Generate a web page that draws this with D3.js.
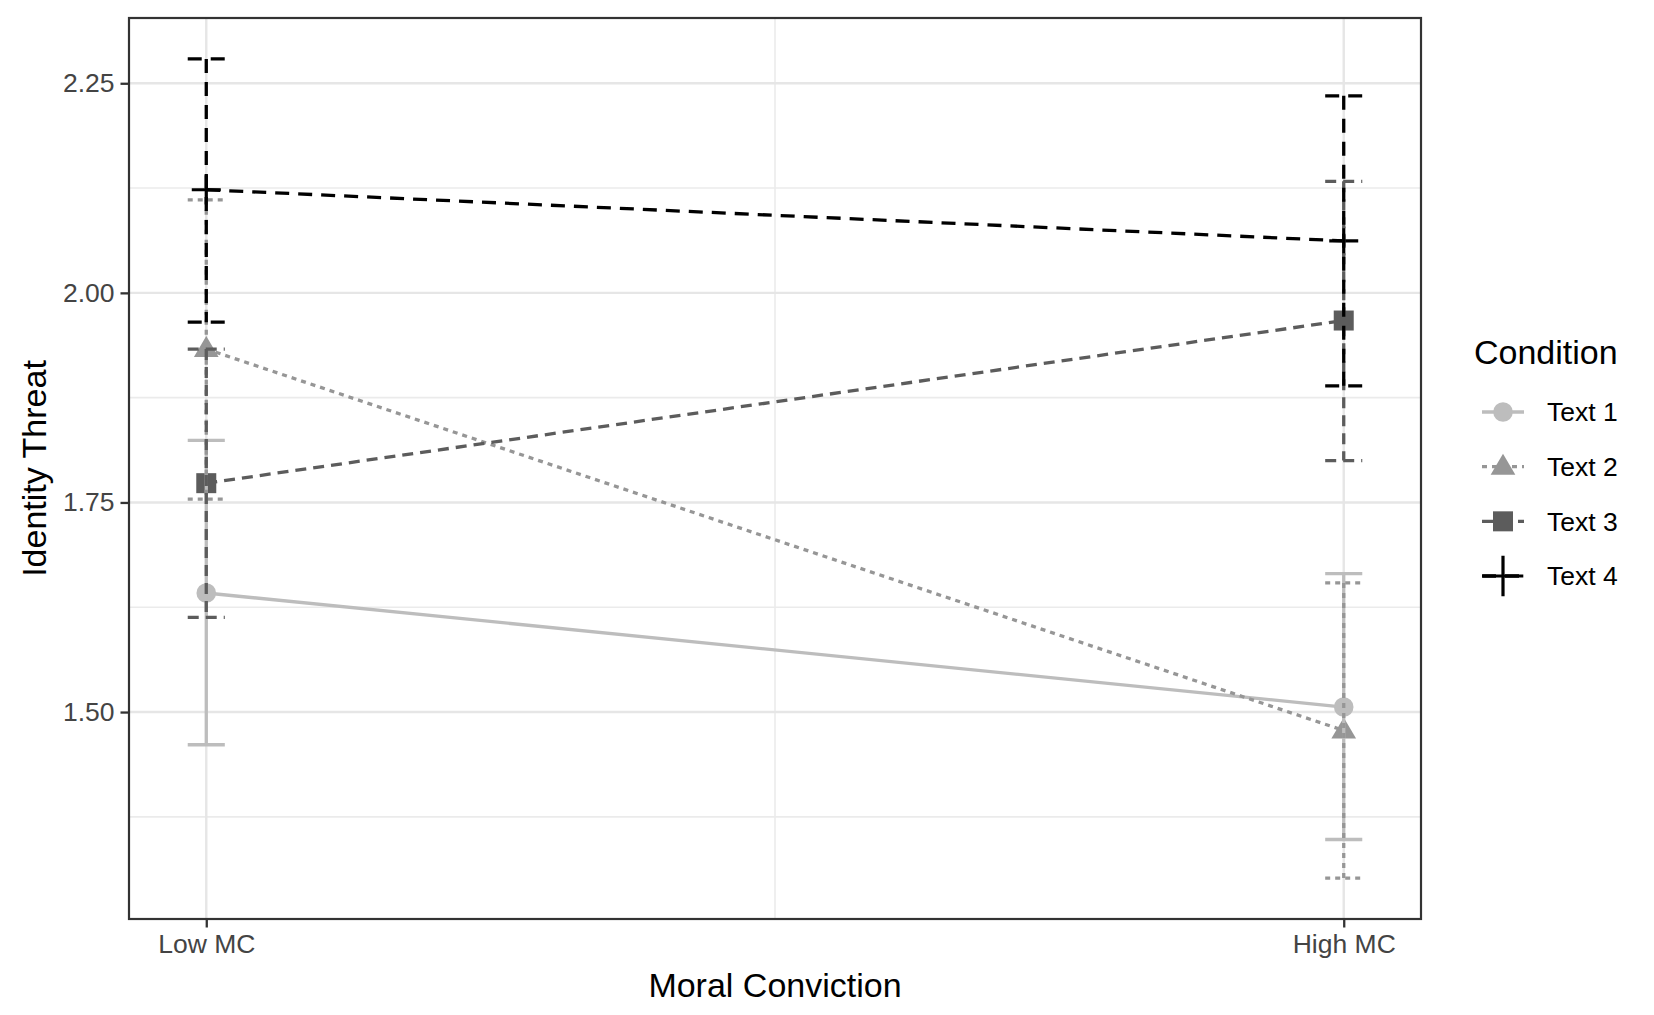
<!DOCTYPE html>
<html>
<head>
<meta charset="utf-8">
<script src="https://cdn.jsdelivr.net/npm/d3@7"></script>
<style>
  html, body { margin: 0; padding: 0; background: #ffffff; }
  svg { display: block; font-family: "Liberation Sans", Arial, Helvetica, sans-serif; }
</style>
</head>
<body>
<svg id="chart" width="1654" height="1015"></svg>
<script>
// ---------------- data ----------------
const categories = ["Low MC", "High MC"];
const conditions = ["Text 1", "Text 2", "Text 3", "Text 4"];
const yTicks = [1.50, 1.75, 2.00, 2.25];
const yMinorTicks = [1.375, 1.625, 1.875, 2.125];

// means per condition (Low MC, High MC)
const text1Mean = [1.642, 1.506];
const text2Mean = [1.933, 1.478];
const text3Mean = [1.773, 1.967];
const text4Mean = [2.123, 2.062];
// lower / upper error bar limits (Low MC, High MC)
const text1Lower = [1.461, 1.348];
const text1Upper = [1.824, 1.665];
const text2Lower = [1.754, 1.302];
const text2Upper = [2.111, 1.654];
const text3Lower = [1.613, 1.800];
const text3Upper = [1.933, 2.133];
const text4Lower = [1.965, 1.889];
const text4Upper = [2.279, 2.235];

const xTitle = "Moral Conviction";
const yTitle = "Identity Threat";
const legendTitle = "Condition";

// ---------------- styles ----------------
const colors = ["#bdbdbd", "#969696", "#5c5c5c", "#000000"];
const dashes = [null, "5,5", "11,7", "14,9"];
const shapes = ["circle", "triangle", "square", "plus"];

const series = conditions.map((c, i) => ({
  name: c,
  mean: [text1Mean, text2Mean, text3Mean, text4Mean][i],
  lower: [text1Lower, text2Lower, text3Lower, text4Lower][i],
  upper: [text1Upper, text2Upper, text3Upper, text4Upper][i],
  color: colors[i], dash: dashes[i], shape: shapes[i]
}));

// ---------------- layout ----------------
const panel = { left: 129, right: 1421, top: 18, bottom: 919 };
const capHalf = 0.0163;    // error bar half-width in x units
const lw = 3.3;
const svg = d3.select("#chart");

// x: continuous positions 0..n-1 with ggplot-like 5% expansion
const xLo = -capHalf, xHi = categories.length - 1 + capHalf;
const xPad = (xHi - xLo) * 0.05;
const x = d3.scaleLinear().domain([xLo - xPad, xHi + xPad]).range([panel.left, panel.right]);

const allLo = d3.min(series, s => d3.min(s.lower));
const allHi = d3.max(series, s => d3.max(s.upper));
const yPad = (allHi - allLo) * 0.05;
const y = d3.scaleLinear().domain([allLo - yPad, allHi + yPad]).range([panel.bottom, panel.top]);

// panel background
svg.append("rect").attr("x", panel.left).attr("y", panel.top)
  .attr("width", panel.right - panel.left).attr("height", panel.bottom - panel.top)
  .attr("fill", "#ffffff");

// grid
const grid = svg.append("g");
grid.selectAll(".ymin").data(yMinorTicks).join("line")
  .attr("x1", panel.left).attr("x2", panel.right)
  .attr("y1", d => y(d)).attr("y2", d => y(d))
  .attr("stroke", "#ebebeb").attr("stroke-width", 1.6);
grid.selectAll(".xmin").data([0.5]).join("line")
  .attr("y1", panel.top).attr("y2", panel.bottom)
  .attr("x1", d => x(d)).attr("x2", d => x(d))
  .attr("stroke", "#ebebeb").attr("stroke-width", 1.6);
grid.selectAll(".ymaj").data(yTicks).join("line")
  .attr("x1", panel.left).attr("x2", panel.right)
  .attr("y1", d => y(d)).attr("y2", d => y(d))
  .attr("stroke", "#e6e6e6").attr("stroke-width", 2.4);
grid.selectAll(".xmaj").data(categories.map((c, i) => i)).join("line")
  .attr("y1", panel.top).attr("y2", panel.bottom)
  .attr("x1", d => x(d)).attr("x2", d => x(d))
  .attr("stroke", "#e6e6e6").attr("stroke-width", 2.4);

// symbol drawing helper
function drawShape(g, shape, cx, cy, color, scale) {
  const k = scale || 1;
  if (shape === "circle") {
    g.append("circle").attr("cx", cx).attr("cy", cy).attr("r", 9.8 * k).attr("fill", color);
  } else if (shape === "triangle") {
    const s = 13 * k;
    g.append("path").attr("d",
      `M${cx},${cy - s * 1.0} L${cx + s * 0.95},${cy + s * 0.62} L${cx - s * 0.95},${cy + s * 0.62} Z`)
      .attr("fill", color);
  } else if (shape === "square") {
    const s = 10 * k;
    g.append("rect").attr("x", cx - s).attr("y", cy - s).attr("width", 2 * s).attr("height", 2 * s)
      .attr("fill", color);
  } else if (shape === "plus") {
    const s = 14.5 * k;
    g.append("path").attr("d", `M${cx - s},${cy} H${cx + s} M${cx},${cy - s} V${cy + s}`)
      .attr("stroke", color).attr("stroke-width", 3.2).attr("fill", "none");
  }
}

// lines
const line = d3.line().x((d, i) => x(i)).y(d => y(d));
const linesG = svg.append("g");
series.forEach(s => {
  linesG.append("path").attr("d", line(s.mean))
    .attr("fill", "none").attr("stroke", s.color).attr("stroke-width", lw)
    .attr("stroke-dasharray", s.dash);
});

// points
const ptsG = svg.append("g");
series.forEach(s => {
  s.mean.forEach((m, i) => drawShape(ptsG, s.shape, x(i), y(m), s.color));
});

// error bars (top cap, vertical, bottom cap as separate dashed segments)
const errG = svg.append("g");
series.forEach(s => {
  s.mean.forEach((m, i) => {
    const segs = [
      [[i - capHalf, s.upper[i]], [i + capHalf, s.upper[i]]],
      [[i, s.upper[i]], [i, s.lower[i]]],
      [[i - capHalf, s.lower[i]], [i + capHalf, s.lower[i]]]
    ];
    segs.forEach(sg => {
      errG.append("line")
        .attr("x1", x(sg[0][0])).attr("y1", y(sg[0][1]))
        .attr("x2", x(sg[1][0])).attr("y2", y(sg[1][1]))
        .attr("stroke", s.color).attr("stroke-width", lw)
        .attr("stroke-dasharray", s.dash);
    });
  });
});

// panel border
svg.append("rect").attr("x", panel.left).attr("y", panel.top)
  .attr("width", panel.right - panel.left).attr("height", panel.bottom - panel.top)
  .attr("fill", "none").attr("stroke", "#333333").attr("stroke-width", 2.2);

// axes
const yAxis = d3.axisLeft(y).tickValues(yTicks).tickFormat(d3.format(".2f")).tickSizeOuter(0).tickSize(8.5).tickPadding(6);
const yG = svg.append("g").attr("transform", `translate(${panel.left},0)`).call(yAxis);
yG.select(".domain").remove();
yG.selectAll(".tick line").attr("stroke", "#333333").attr("stroke-width", 2.3);
yG.selectAll(".tick text").attr("fill", "#444444").attr("font-size", 26.5)
  .attr("font-family", "'Liberation Sans', Arial, sans-serif");

const xAxis = d3.axisBottom(x).tickValues(categories.map((c, i) => i))
  .tickFormat(i => categories[i]).tickSizeOuter(0).tickSize(8.5).tickPadding(7);
const xG = svg.append("g").attr("transform", `translate(0,${panel.bottom})`).call(xAxis);
xG.select(".domain").remove();
xG.selectAll(".tick line").attr("stroke", "#333333").attr("stroke-width", 2.3);
xG.selectAll(".tick text").attr("fill", "#444444").attr("font-size", 26.5)
  .attr("font-family", "'Liberation Sans', Arial, sans-serif");

// axis titles
svg.append("text").attr("x", (panel.left + panel.right) / 2).attr("y", 997)
  .attr("text-anchor", "middle").attr("font-size", 34).attr("fill", "#000").text(xTitle);
svg.append("text").attr("transform", `translate(46,${(panel.top + panel.bottom) / 2}) rotate(-90)`)
  .attr("text-anchor", "middle").attr("font-size", 34).attr("fill", "#000").text(yTitle);

// legend
const leg = svg.append("g");
leg.append("text").attr("x", 1474).attr("y", 364).attr("font-size", 34).attr("fill", "#000").text(legendTitle);
const legY = d3.scalePoint().domain(conditions).range([412, 576]);
series.forEach(s => {
  const cy = legY(s.name);
  leg.append("line").attr("x1", 1482).attr("x2", 1524).attr("y1", cy).attr("y2", cy)
    .attr("stroke", s.color).attr("stroke-width", lw).attr("stroke-dasharray", s.dash);
  drawShape(leg, s.shape, 1503, cy, s.color, s.shape === "plus" ? 1.4 : 1);
  leg.append("text").attr("x", 1547).attr("y", cy).attr("dy", "0.35em")
    .attr("font-size", 26.5).attr("fill", "#000").text(s.name);
});
</script>
</body>
</html>
